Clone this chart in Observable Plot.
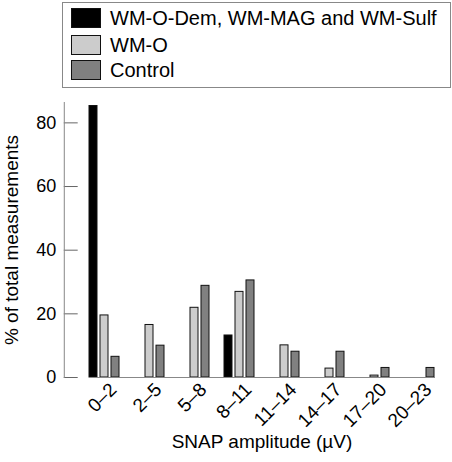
<!DOCTYPE html>
<html>
<head>
<meta charset="utf-8">
<script src="https://cdn.jsdelivr.net/npm/d3@7"></script>
<script src="https://cdn.jsdelivr.net/npm/@observablehq/plot@0.6"></script>
<style>
  body { margin: 0; background: #fff; font-family: "Liberation Sans", Arial, sans-serif; }
  #wrap { position: relative; width: 452px; height: 462px; overflow: hidden; }
  #legend { position: absolute; left: 62px; top: 2px; width: 389px; height: 86px; box-sizing: border-box; border: 1px solid #888; }
  .item { position: absolute; left: 8px; height: 20px; display: flex; align-items: center; }
  .sw { width: 30px; height: 20px; box-sizing: border-box; border: 1px solid #111; margin-right: 9px; flex: none; }
  .lab { font-size: 20px; color: #000; white-space: nowrap; line-height: 20px; }
  #chart { position: absolute; left: 0; top: 90px; }
</style>
</head>
<body>
<div id="wrap">
  <div id="legend"></div>
  <div id="chart"></div>
</div>
<script>
const categories = ["0–2", "2–5", "5–8", "8–11", "11–14", "14–17", "17–20", "20–23"];
const series = ["WM-O-Dem, WM-MAG and WM-Sulf", "WM-O", "Control"];
const demValues = [85.3, 0, 0, 13.2, 0, 0, 0, 0];
const wmoValues = [19.5, 16.5, 21.9, 26.9, 10.1, 2.8, 0.6, 0];
const controlValues = [6.5, 10.0, 28.8, 30.5, 8.1, 8.1, 3.0, 3.0];
const colors = ["#000000", "#cccccc", "#808080"];
const yTicks = [0, 20, 40, 60, 80];

const seriesValues = [demValues, wmoValues, controlValues];
const rows = [];
categories.forEach((c, i) => {
  series.forEach((s, j) => {
    const v = seriesValues[j][i];
    if (v > 0) rows.push({category: c, series: s, value: v});
  });
});

// legend
const legend = document.getElementById("legend");
const rowTops = [5, 32, 57];
series.forEach((s, j) => {
  const it = document.createElement("div");
  it.className = "item";
  it.style.top = rowTops[j] + "px";
  const sw = document.createElement("div");
  sw.className = "sw";
  sw.style.background = colors[j];
  const lb = document.createElement("span");
  lb.className = "lab";
  lb.textContent = s;
  it.appendChild(sw); it.appendChild(lb);
  legend.appendChild(it);
});

const W = 452, mL = 62, mR = 0;
const fxOpts = {paddingInner: 0.3355, paddingOuter: 0.4724, align: 0.589};
// same band geometry as Plot's fx scale, used to put the y axis at the frame's left edge
const fxBand = d3.scaleBand(categories, [mL, W - mR])
  .paddingInner(fxOpts.paddingInner).paddingOuter(fxOpts.paddingOuter).align(fxOpts.align);
const axisShift = mL - fxBand(categories[0]);
const tickLen = 14;

const chart = Plot.plot({
  width: W,
  height: 372,
  marginTop: 12,
  marginBottom: 85,
  marginLeft: mL,
  marginRight: mR,
  style: {fontFamily: "Liberation Sans, Arial, sans-serif", color: "#000", background: "#fff"},
  fx: {domain: categories, ...fxOpts, label: null, axis: null},
  x: {domain: series, paddingInner: 0.3125, paddingOuter: 0, axis: null},
  y: {domain: [0, 86.4], label: null, axis: null},
  color: {domain: series, range: colors},
  marks: [
    Plot.barY(rows, {fx: "category", x: "series", y: "value", fill: "series", stroke: "#111", strokeWidth: 1}),
    Plot.tickY(yTicks, {y: d => d, facetAnchor: "left", dx: axisShift, insetRight: fxBand.bandwidth() - tickLen, stroke: "#666"}),
    Plot.frame({anchor: "left", facetAnchor: "left", dx: axisShift, stroke: "#888"}),
    Plot.frame({anchor: "bottom", facet: "super", stroke: "#888"}),
    Plot.axisY({ticks: yTicks, tickSize: 0, tickPadding: 8, dx: axisShift, fontSize: 18, fill: "#000", label: null}),
    Plot.axisY({ticks: [], label: "% of total measurements", labelArrow: "none", labelAnchor: "center", labelOffset: 85, dx: axisShift, fontSize: 19, fill: "#000"}),
    Plot.axisFx({anchor: "bottom", tickRotate: -45, tickSize: 0, tickPadding: 9, dx: 9, fontSize: 19, label: null}),
    Plot.axisFx({anchor: "bottom", ticks: [], label: "SNAP amplitude (µV)", labelArrow: "none", labelAnchor: "center", labelOffset: 70, fontSize: 19})
  ]
});
document.getElementById("chart").appendChild(chart);
</script>
</body>
</html>
